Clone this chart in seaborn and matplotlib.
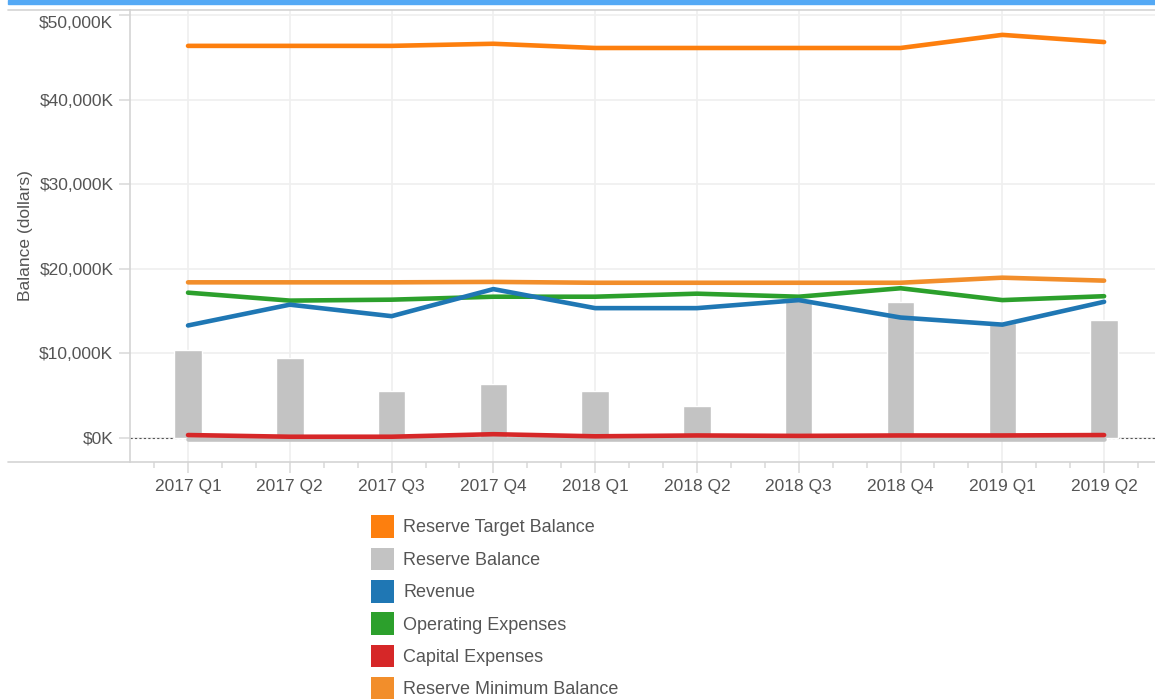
import numpy as np
import pandas as pd
import matplotlib
matplotlib.use('Agg')
import matplotlib.pyplot as plt
import matplotlib.transforms as mtransforms
import seaborn as sns
from matplotlib.patches import Patch, Rectangle
from matplotlib.lines import Line2D
from matplotlib.ticker import FuncFormatter, MultipleLocator

# Values in thousands of dollars
quarters = ['2017 Q1', '2017 Q2', '2017 Q3', '2017 Q4', '2018 Q1',
            '2018 Q2', '2018 Q3', '2018 Q4', '2019 Q1', '2019 Q2']
reserve_target = [46350, 46350, 46350, 46600, 46100, 46100, 46100, 46100, 47650, 46800]
reserve_balance = [10350, 9400, 5530, 6350, 5530, 3760, 16450, 16100, 13600, 14000]
revenue = [13300, 15760, 14400, 17600, 15350, 15350, 16300, 14240, 13400, 16100]
operating = [17180, 16240, 16350, 16700, 16700, 17060, 16700, 17700, 16300, 16760]
capital = [350, 150, 150, 450, 200, 300, 250, 300, 300, 350]
reserve_minimum = [18400, 18400, 18400, 18450, 18350, 18350, 18350, 18350, 18950, 18600]
zero_line = [-150, -150, -150, -150, -150, -150, -150, -150, -150, -150]

colors = {
    'Reserve Target Balance': '#fd7f0e',
    'Reserve Balance': '#c3c3c3',
    'Revenue': '#1f77b4',
    'Operating Expenses': '#2ca02c',
    'Capital Expenses': '#d62728',
    'Reserve Minimum Balance': '#f28e2b',
}

sns.set_style('white')
plt.rcParams['font.family'] = ['Liberation Sans', 'DejaVu Sans']

fig = plt.figure(figsize=(11.55, 6.99), dpi=100)
W, H = 1155, 699
ax = fig.add_axes([130 / W, (H - 462) / H, (1155 - 130) / W, (462 - 10) / H])

x = np.arange(len(quarters))
bars = pd.DataFrame({'x': x, 'value': reserve_balance})
sns.barplot(data=bars, x='x', y='value', color=colors['Reserve Balance'],
            width=0.27, saturation=1, ax=ax, zorder=2)

lines = pd.DataFrame({
    'x': np.tile(x, 5),
    'value': reserve_minimum + operating + revenue + capital + reserve_target,
    'series': (['Reserve Minimum Balance'] * 10 + ['Operating Expenses'] * 10 +
               ['Revenue'] * 10 + ['Capital Expenses'] * 10 +
               ['Reserve Target Balance'] * 10),
})
ax.plot(x, zero_line, color=colors['Reserve Balance'], lw=3.3,
        solid_capstyle='round', zorder=3)
sns.lineplot(data=lines, x='x', y='value', hue='series', palette=colors,
             lw=3.3, ax=ax, legend=False, zorder=4, solid_capstyle='round')

ax.axhline(0, color='#555555', lw=0.8, ls=(0, (2, 2)), zorder=1)

ax.set_xlim(-0.57, 9.5)
ax.set_ylim(-2837, 50590)
ax.set_xticks(x)
ax.set_xticklabels(quarters)
ax.xaxis.set_minor_locator(MultipleLocator(1 / 3))
ax.yaxis.set_major_locator(MultipleLocator(10000))
ax.yaxis.set_major_formatter(FuncFormatter(lambda v, p: f'${v:,.0f}K'))
ax.set_xlabel('')
ax.set_ylabel('Balance (dollars)', fontsize=12.5, color='#555555')
ax.tick_params(axis='x', which='major', bottom=True, length=8, width=1.2,
               color='#dcdcdc', labelsize=12.5, labelcolor='#555555', pad=4)
ax.tick_params(axis='x', which='minor', bottom=True, length=4, width=1.2,
               color='#dcdcdc')
ax.tick_params(axis='y', which='major', left=True, length=8, width=1.2,
               color='#dcdcdc', labelsize=12.5, labelcolor='#555555', pad=4)
ax.yaxis.set_label_coords(-0.095, 0.5)

ax.grid(True, which='major', color='#efefef', lw=1.2, zorder=0)
ax.set_axisbelow(True)
ax.spines['right'].set_visible(False)
for side in ['left', 'bottom', 'top']:
    ax.spines[side].set_color('#d4d4d4')
    ax.spines[side].set_linewidth(1.2)

# nudge the top y label down so it stays clear of the header
fig.canvas.draw()
for lab in ax.get_yticklabels():
    if lab.get_text() == '$50,000K':
        lab.set_transform(lab.get_transform() +
                          mtransforms.ScaledTranslation(0, -5 / 72, fig.dpi_scale_trans))

# header strip and border lines extending past the axes
fig.patches.append(Rectangle((8 / W, (H - 4) / H), (W - 8) / W, 4 / H,
                             transform=fig.transFigure, color='#54a9f5', zorder=5))
fig.lines.append(Line2D([8 / W, 130 / W], [(H - 462) / H] * 2, transform=fig.transFigure,
                        color='#d4d4d4', lw=1.2))
fig.lines.append(Line2D([8 / W, 130 / W], [(H - 10) / H] * 2, transform=fig.transFigure,
                        color='#d4d4d4', lw=1.2))

handles = [Patch(facecolor=c, edgecolor='none') for c in colors.values()]
leg = fig.legend(handles, list(colors.keys()), loc='upper left',
                 bbox_to_anchor=(364 / W, (H - 508) / H), frameon=False,
                 fontsize=13, handlelength=1.27, handleheight=1.55,
                 handletextpad=0.5, labelspacing=0.54, borderaxespad=0)
for t in leg.get_texts():
    t.set_color('#555555')

fig.savefig('out.png', dpi=100)
